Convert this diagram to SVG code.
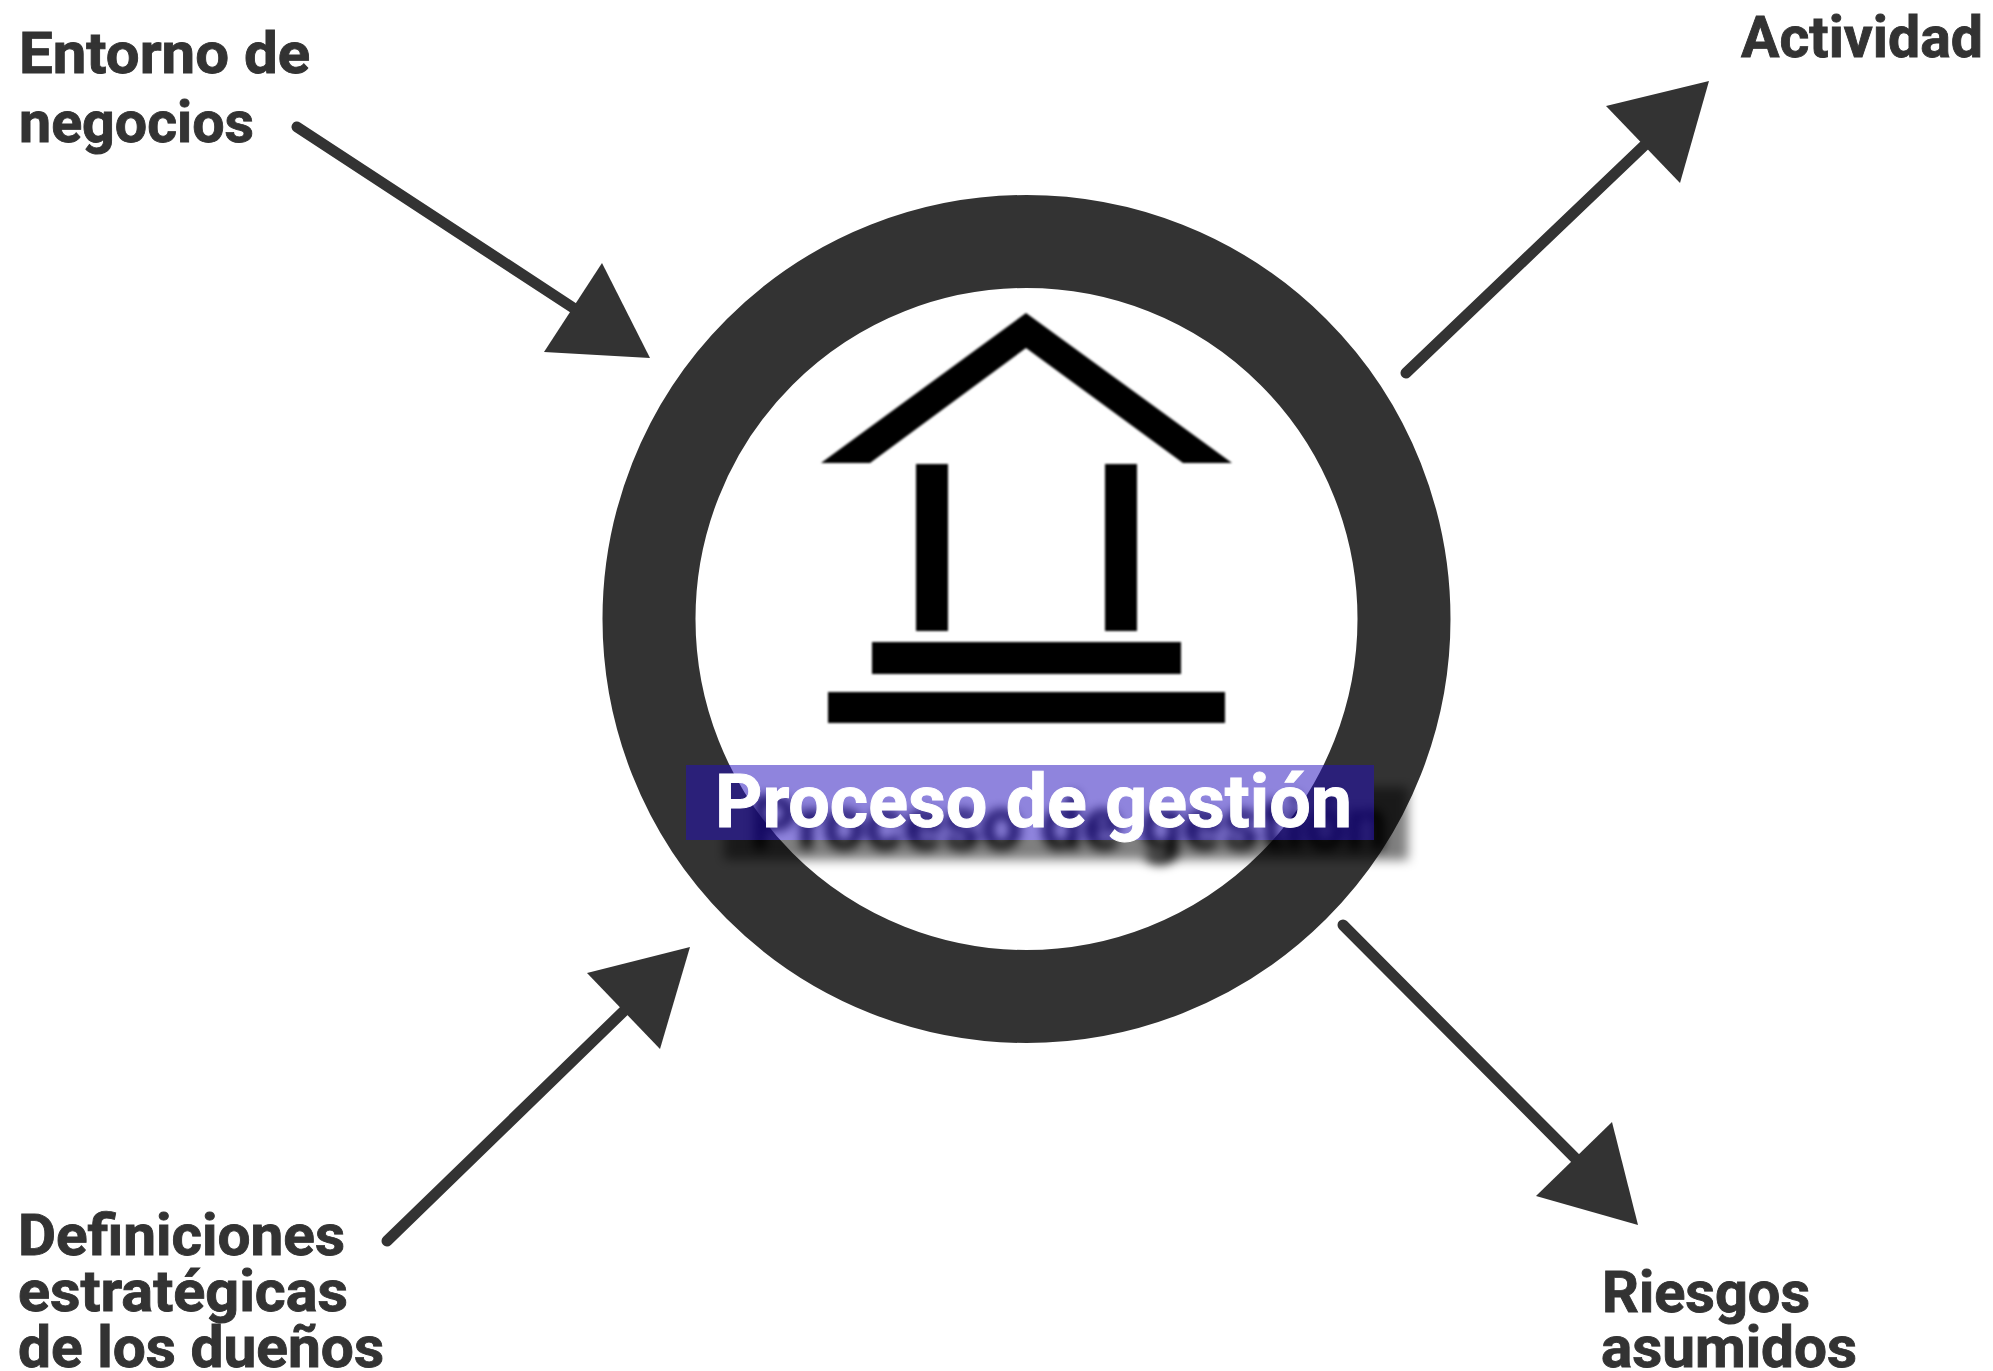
<svg xmlns="http://www.w3.org/2000/svg" width="1993" height="1371" viewBox="0 0 1993 1371">
<style>
.lb{font-family:"Roboto","Liberation Sans",sans-serif;font-weight:700;font-size:58px;fill:#333333;stroke:#333333;stroke-width:0.9}
.cn{stroke:#333333;stroke-width:11;stroke-linecap:round;fill:none}
.hd{fill:#333333}
.ic{fill:#000000}
.ti{font-family:"Roboto","Liberation Sans",sans-serif;font-weight:700;font-size:74px}
</style>
<defs>
<filter id="sb" x="-10%" y="-50%" width="120%" height="200%"><feGaussianBlur stdDeviation="5.5"/></filter>
<filter id="ib" x="-5%" y="-5%" width="110%" height="110%"><feGaussianBlur stdDeviation="0.8"/></filter>
<clipPath id="outband"><path clip-rule="evenodd" d="M600 700H1500V950H600ZM686 765V840H1374V765Z"/></clipPath>
</defs>
<rect width="1993" height="1371" fill="#ffffff"/>
<g id="node-ring"><circle cx="1026.5" cy="619" r="377.5" fill="#ffffff" stroke="#333333" stroke-width="93"/></g>
<g id="node-icon" class="ic" filter="url(#ib)">
<polygon points="1026,313 1232,463 1183,463 1026,348 870,463 821,463"/>
<rect x="916" y="464" width="32" height="167"/>
<rect x="1105" y="464" width="32" height="167"/>
<rect x="872" y="642" width="309" height="32"/>
<rect x="828" y="692" width="397" height="31"/>
</g>
<g id="node-title">
<g clip-path="url(#outband)"><rect x="724" y="787" width="684" height="73" fill="#000000" fill-opacity="0.5" filter="url(#sb)"/></g>
<text class="ti" x="750" y="849" textLength="637" lengthAdjust="spacingAndGlyphs" fill="#000000" filter="url(#sb)">Proceso de gestión</text>
<rect x="686" y="765" width="688" height="75" fill="#230dbd" fill-opacity="0.51"/>
<text class="ti" x="715" y="827" textLength="637" lengthAdjust="spacingAndGlyphs" fill="#ffffff" stroke="#ffffff" stroke-width="1">Proceso de gestión</text>
</g>
<g id="connectors">
<line class="cn" x1="297" y1="127" x2="578" y2="311"/>
<polygon class="hd" points="602,263 544,352 650,358"/>
<line class="cn" x1="1406" y1="373" x2="1650" y2="140"/>
<polygon class="hd" points="1709,81 1606,106 1680,183"/>
<line class="cn" x1="387" y1="1241" x2="628" y2="1007"/>
<polygon class="hd" points="690,947 587,973 660,1049"/>
<line class="cn" x1="1343" y1="925" x2="1580" y2="1163"/>
<polygon class="hd" points="1638,1225 1612,1122 1536,1196"/>
</g>
<g id="node-entorno"><text class="lb" x="19" y="73" textLength="291" lengthAdjust="spacingAndGlyphs">Entorno de</text><text class="lb" x="19" y="142" textLength="235" lengthAdjust="spacingAndGlyphs">negocios</text></g>
<g id="node-actividad"><text class="lb" x="1741" y="57" textLength="242" lengthAdjust="spacingAndGlyphs">Actividad</text></g>
<g id="node-definiciones"><text class="lb" x="18" y="1255" textLength="327" lengthAdjust="spacingAndGlyphs">Definiciones</text><text class="lb" x="18" y="1311" textLength="330" lengthAdjust="spacingAndGlyphs">estratégicas</text><text class="lb" x="18" y="1367" textLength="366" lengthAdjust="spacingAndGlyphs">de los dueños</text></g>
<g id="node-riesgos"><text class="lb" x="1602" y="1312" textLength="208" lengthAdjust="spacingAndGlyphs">Riesgos</text><text class="lb" x="1601" y="1367" textLength="256" lengthAdjust="spacingAndGlyphs">asumidos</text></g>
</svg>
